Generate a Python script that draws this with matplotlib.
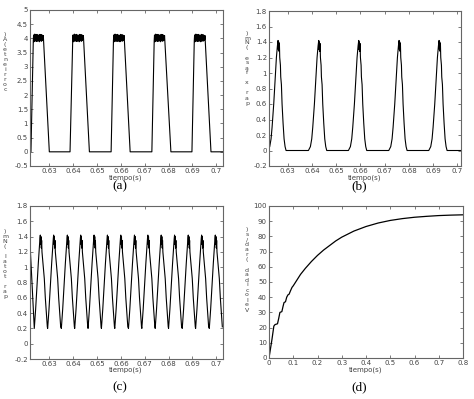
import numpy as np
import matplotlib
matplotlib.use('Agg')
import matplotlib.pyplot as plt

# ---- data ----
# (a) corriente: per pulse [rise start, top start, top end, fall end] (s)
pulses_a = [
    [0.62230, 0.62328, 0.62748, 0.63000],
    [0.63868, 0.63980, 0.64428, 0.64680],
    [0.65590, 0.65688, 0.66136, 0.66388],
    [0.67298, 0.67396, 0.67830, 0.68096],
    [0.68978, 0.69076, 0.69524, 0.69776],
]
ripple_a = [3.92, 4.12, 3.88, 4.10, 3.95, 4.15, 3.90, 4.05, 4.13, 3.92, 4.08, 3.89,
            4.14, 3.97, 4.10, 3.90, 4.12, 4.00, 3.93, 4.11, 3.88, 4.06, 4.14, 3.91,
            4.09, 3.95, 4.13, 3.90, 4.04, 4.12, 3.92, 4.08, 3.96, 4.10]

# (b) par x fase: peak times and one pulse shape (offset s, Nm)
peaks_b = [0.62618, 0.64296, 0.65946, 0.67610, 0.69260]
shape_b_dt = [-0.00440, -0.00358, -0.00303, -0.00261, -0.00193, -0.00138, -0.00083,
              -0.00041, -0.00014, 0.0, 0.00014, 0.00028, 0.00041, 0.00055, 0.00083,
              0.00096, 0.00124, 0.00151, 0.00193, 0.00234, 0.00275, 0.00316]
shape_b_v = [0.0, 0.05, 0.15, 0.30, 0.60, 0.90, 1.20, 1.35, 1.42, 1.30, 1.40, 1.28,
             1.38, 1.20, 1.10, 0.95, 0.85, 0.60, 0.35, 0.15, 0.05, 0.0]

# (c) par total: minimum times and one cycle shape (offset s, Nm)
mins_c = [0.62370, 0.62930, 0.63504, 0.64064, 0.64624, 0.65184, 0.65744, 0.66318,
          0.66878, 0.67438, 0.67998, 0.68572, 0.69132, 0.69706]
shape_c_dt = [0.0, 0.00056, 0.00112, 0.00168, 0.00210, 0.00238, 0.00252, 0.00266,
              0.00280, 0.00294, 0.00308, 0.00322, 0.00364, 0.00392, 0.00420, 0.00462,
              0.00504, 0.00546]
shape_c_v = [0.20, 0.45, 0.75, 1.05, 1.25, 1.38, 1.42, 1.30, 1.40, 1.25, 1.35, 1.20,
             1.05, 0.95, 0.85, 0.60, 0.40, 0.22]

# (d) velocidad
t_d = [0, 0.005, 0.012, 0.02, 0.025, 0.035, 0.04, 0.045, 0.053, 0.058, 0.062, 0.068,
       0.073, 0.078, 0.083, 0.088, 0.095, 0.1, 0.11, 0.12, 0.13, 0.15, 0.175, 0.2,
       0.225, 0.25, 0.275, 0.3, 0.35, 0.4, 0.45, 0.5, 0.55, 0.6, 0.65, 0.7, 0.75, 0.8]
v_d = [0, 5, 12, 21, 22, 22.5, 26, 30, 30.5, 34, 36.5, 37, 40, 41.5, 42, 44, 46.5,
       47.5, 50, 52.5, 55, 59, 63.5, 67.5, 71, 74, 77, 79.5, 83.5, 86.5, 88.8, 90.5,
       91.7, 92.6, 93.2, 93.7, 94.0, 94.2]

xt_top = [0.63, 0.64, 0.65, 0.66, 0.67, 0.68, 0.69, 0.70]
yt_a = [-0.5, 0, 0.5, 1, 1.5, 2, 2.5, 3, 3.5, 4, 4.5, 5]
yt_b = [-0.2, 0, 0.2, 0.4, 0.6, 0.8, 1, 1.2, 1.4, 1.6, 1.8]
xt_d = [0, 0.1, 0.2, 0.3, 0.4, 0.5, 0.6, 0.7, 0.8]
yt_d = [0, 10, 20, 30, 40, 50, 60, 70, 80, 90, 100]

ylab = ['corriente(A)', 'par x fase (Nm)', 'par total (Nm)', 'Velocidad (rad/s)']
sub = ['(a)', '(b)', '(c)', '(d)']

# ---- build curves ----
ta, va = [], []
for r0, r1, f0, f1 in pulses_a:
    ta += [r0]
    va += [0]
    ta += list(np.linspace(r1, f0, len(ripple_a)))
    va += ripple_a
    ta += [f1]
    va += [0]
ta = [0.6200] + ta + [0.7050]
va = [0] + va + [0]

tb, vb = [0.6200], [0.0]
for p in peaks_b:
    tb += [p + d for d in shape_b_dt]
    vb += shape_b_v
tb += [0.7050]
vb += [0.0]

tc, vc = [0.6220], [1.25]
for m in mins_c:
    tc += [m + d for d in shape_c_dt]
    vc += shape_c_v

W, H = 474, 399
fig = plt.figure(figsize=(W / 100, H / 100), dpi=100)

boxes = [(30, 10, 223, 166), (269, 11, 461, 166), (30, 206, 223, 359), (269, 206, 463, 358)]
gray = '#444444'


def make_ax(box):
    x0, y0, x1, y1 = box
    ax = fig.add_axes([x0 / W, 1 - y1 / H, (x1 - x0) / W, (y1 - y0) / H])
    for s in ax.spines.values():
        s.set_color('#666666')
        s.set_linewidth(0.8)
    ax.tick_params(direction='in', length=2.5, width=0.6, colors='#666666',
                   labelcolor=gray, labelsize=5, top=True, right=True, pad=1.5)
    return ax


def fmt(v):
    return '%g' % v


axs = [make_ax(b) for b in boxes]

axs[0].plot(ta, va, color='black', lw=0.8)
axs[0].set_xlim(0.6219, 0.7028)
axs[0].set_ylim(-0.5, 5)
axs[0].set_yticks(yt_a, [fmt(v) for v in yt_a])

axs[1].plot(tb, vb, color='black', lw=0.8)
axs[1].set_xlim(0.6223, 0.7015)
axs[1].set_ylim(-0.2, 1.8)
axs[1].set_yticks(yt_b, [fmt(v) for v in yt_b])

axs[2].plot(tc, vc, color='black', lw=0.8)
axs[2].set_xlim(0.6219, 0.7028)
axs[2].set_ylim(-0.2, 1.8)
axs[2].set_yticks(yt_b, [fmt(v) for v in yt_b])

for ax in axs[:3]:
    ax.set_xticks(xt_top, [fmt(v) for v in xt_top])

axs[3].plot(t_d, v_d, color='black', lw=0.9)
axs[3].set_xlim(0, 0.8)
axs[3].set_ylim(0, 100)
axs[3].set_xticks(xt_d, [fmt(v) for v in xt_d])
axs[3].set_yticks(yt_d, [fmt(v) for v in yt_d])

# x labels, sublabels and stacked y labels
xlab_pos = [(126, 177.5), (365, 177.5), (126, 370), (366, 369.5)]
sub_pos = [(120, 186), (359, 186), (120, 387), (359, 387)]
ylab_pos = [(5, 62), (247, 68), (5, 264), (247, 270)]
for i in range(4):
    fig.text(xlab_pos[i][0] / W, 1 - xlab_pos[i][1] / H, 'tiempo(s)', fontsize=5,
             color=gray, ha='center', va='center')
    fig.text(sub_pos[i][0] / W, 1 - sub_pos[i][1] / H, sub[i], fontsize=9.5,
             family='Liberation Serif', ha='center', va='center')
    fig.text(ylab_pos[i][0] / W, 1 - ylab_pos[i][1] / H, '\n'.join(ylab[i][::-1]),
             fontsize=4.5, color=gray, ha='center', va='center', linespacing=1.0)

fig.savefig('out.png', dpi=100)
